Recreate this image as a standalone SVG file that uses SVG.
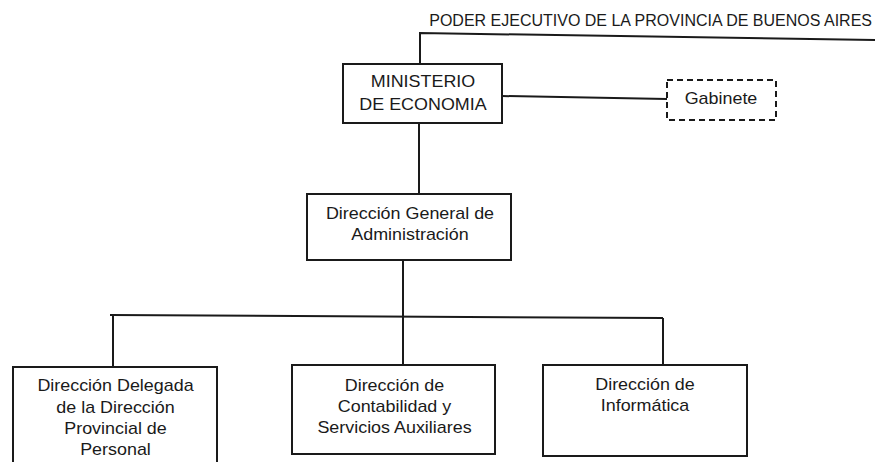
<svg xmlns="http://www.w3.org/2000/svg" width="875" height="462" viewBox="0 0 875 462">
<style>
.box{fill:#fff;stroke:#1a1a1a;stroke-width:2}
.dash{fill:#fff;stroke:#1a1a1a;stroke-width:2;stroke-dasharray:6 4}
.ln{fill:none;stroke:#1a1a1a;stroke-width:2}
text{font-family:"Liberation Sans",Arial,sans-serif;font-size:16px;fill:#1a1a1a}
.c{text-anchor:middle}
</style>
<rect width="875" height="462" fill="#fff"/>
<g id="connectors">
<polyline class="ln" points="420,64 420,33 875,40"/>
<line class="ln" x1="502" y1="96" x2="667" y2="99"/>
<line class="ln" x1="419" y1="123" x2="419" y2="194"/>
<line class="ln" x1="403" y1="260" x2="403" y2="316"/>
<line class="ln" x1="110" y1="315" x2="663" y2="318"/>
<line class="ln" x1="113" y1="315" x2="113" y2="367"/>
<line class="ln" x1="403" y1="316" x2="403" y2="365"/>
<line class="ln" x1="663" y1="318" x2="663" y2="365"/>
</g>
<g id="poder">
<text x="872" y="26" style="text-anchor:end">PODER EJECUTIVO DE LA PROVINCIA DE BUENOS AIRES</text>
</g>
<g id="ministerio">
<rect class="box" x="343" y="64" width="159" height="59"/>
<text class="c" transform="translate(423,87) scale(1.12,1)">MINISTERIO</text>
<text class="c" transform="translate(423,110) scale(1.12,1)">DE ECONOMIA</text>
</g>
<g id="gabinete">
<rect class="dash" x="667" y="80" width="109" height="40"/>
<text class="c" transform="translate(721,104) scale(1.12,1)">Gabinete</text>
</g>
<g id="dga">
<rect class="box" x="307" y="194" width="204" height="66"/>
<text class="c" transform="translate(410,219) scale(1.12,1)">Dirección General de</text>
<text class="c" transform="translate(410,240) scale(1.12,1)">Administración</text>
</g>
<g id="delegada">
<rect class="box" x="13" y="367" width="204" height="110"/>
<text class="c" transform="translate(115.5,391) scale(1.12,1)">Dirección Delegada</text>
<text class="c" transform="translate(115.5,413) scale(1.12,1)">de la Dirección</text>
<text class="c" transform="translate(115.5,434) scale(1.12,1)">Provincial de</text>
<text class="c" transform="translate(115.5,455) scale(1.12,1)">Personal</text>
</g>
<g id="contabilidad">
<rect class="box" x="292" y="365" width="203" height="89"/>
<text class="c" transform="translate(394.5,391) scale(1.12,1)">Dirección de</text>
<text class="c" transform="translate(394.5,412) scale(1.12,1)">Contabilidad y</text>
<text class="c" transform="translate(394.5,433) scale(1.12,1)">Servicios Auxiliares</text>
</g>
<g id="informatica">
<rect class="box" x="543" y="365" width="204" height="91"/>
<text class="c" transform="translate(645,390) scale(1.12,1)">Dirección de</text>
<text class="c" transform="translate(645,411) scale(1.12,1)">Informática</text>
</g>
</svg>
